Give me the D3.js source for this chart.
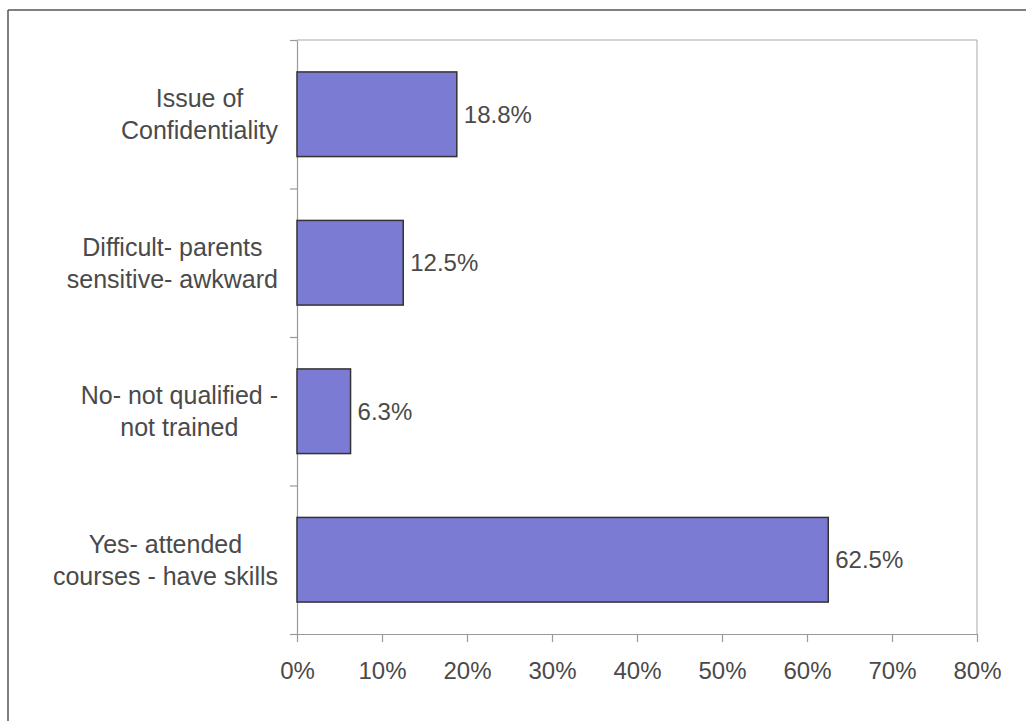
<!DOCTYPE html>
<html>
<head>
<meta charset="utf-8">
<script src="https://cdn.jsdelivr.net/npm/d3@7"></script>
<style>
  html, body { margin: 0; padding: 0; background: #fff; }
  svg { display: block; }
  text { font-family: "Liberation Sans", Arial, sans-serif; fill: #4a4a4a; }
</style>
</head>
<body>
<svg id="chart" width="1026" height="721"></svg>
<script>
const categories = [
  ["Issue of", "Confidentiality"],
  ["Difficult- parents", "sensitive- awkward"],
  ["No- not qualified -", "not trained"],
  ["Yes- attended", "courses - have skills"]
];
const values = [0.188, 0.125, 0.063, 0.625];
const valueLabels = ["18.8%", "12.5%", "6.3%", "62.5%"];
const xTicks = [0, 0.1, 0.2, 0.3, 0.4, 0.5, 0.6, 0.7, 0.8];

const svg = d3.select("#chart");
const W = 1026, H = 721;
const plot = { left: 297, right: 977, top: 40, bottom: 634 };

// outer frame
svg.append("line").attr("x1", 8).attr("x2", W).attr("y1", 10).attr("y2", 10)
  .attr("stroke", "#555").attr("stroke-width", 1.5);
svg.append("line").attr("x1", 8).attr("x2", 8).attr("y1", 10).attr("y2", H)
  .attr("stroke", "#555").attr("stroke-width", 1.5);

const x = d3.scaleLinear().domain([0, 0.8]).range([plot.left, plot.right]);
const keys = categories.map(c => c.join(" "));
const y = d3.scaleBand().domain(keys).range([plot.top, plot.bottom])
  .paddingInner(0.43).paddingOuter(0.215);

// plot border (top and right)
svg.append("line").attr("x1", plot.left).attr("x2", plot.right)
  .attr("y1", plot.top).attr("y2", plot.top).attr("stroke", "#a8a8a8").attr("stroke-width", 1);
svg.append("line").attr("x1", plot.right).attr("x2", plot.right)
  .attr("y1", plot.top).attr("y2", plot.bottom).attr("stroke", "#a8a8a8").attr("stroke-width", 1);

// x axis
const xAxis = d3.axisBottom(x).tickValues(xTicks).tickFormat(d3.format(".0%"))
  .tickSizeInner(8).tickSizeOuter(0).tickPadding(20);
const gx = svg.append("g").attr("transform", `translate(0,${plot.bottom})`).call(xAxis);
gx.select(".domain").attr("stroke", "#999").attr("stroke-width", 1.2);
gx.selectAll(".tick line").attr("stroke", "#999").attr("stroke-width", 1.2);
gx.selectAll(".tick text").style("font-size", "24px").attr("fill", "#4a4a4a");

// y axis with ticks at band boundaries
const yb = d3.scaleLinear().domain([0, categories.length]).range([plot.bottom, plot.top]);
const yAxis = d3.axisLeft(yb).tickValues(d3.range(categories.length + 1))
  .tickFormat("").tickSizeInner(7).tickSizeOuter(0);
const gy = svg.append("g").attr("transform", `translate(${plot.left},0)`).call(yAxis);
gy.select(".domain").attr("stroke", "#999").attr("stroke-width", 1.2);
gy.selectAll(".tick line").attr("stroke", "#999").attr("stroke-width", 1.2);

// bars
svg.append("g").selectAll("rect").data(values).join("rect")
  .attr("x", x(0))
  .attr("y", (d, i) => y(keys[i]))
  .attr("width", d => x(d) - x(0))
  .attr("height", y.bandwidth())
  .attr("fill", "#7b7bd4")
  .attr("stroke", "#333")
  .attr("stroke-width", 1.5);

// value labels
svg.append("g").selectAll("text").data(values).join("text")
  .attr("x", d => x(d) + 7)
  .attr("y", (d, i) => y(keys[i]) + y.bandwidth() / 2)
  .attr("dy", "0.35em")
  .style("font-size", "24px")
  .text((d, i) => valueLabels[i]);

// category labels: block right-aligned, lines centered within block
const labelRight = 278;
const lineH = 32;
categories.forEach((lines, i) => {
  const cy = y(keys[i]) + y.bandwidth() / 2;
  const g = svg.append("g");
  const texts = lines.map((l, j) => g.append("text")
    .style("font-size", "25px")
    .attr("text-anchor", "middle")
    .attr("y", cy + (j - (lines.length - 1) / 2) * lineH)
    .attr("dy", "0.35em")
    .text(l));
  const maxW = d3.max(texts, t => t.node().getComputedTextLength());
  texts.forEach(t => t.attr("x", labelRight - maxW / 2));
});
</script>
</body>
</html>
